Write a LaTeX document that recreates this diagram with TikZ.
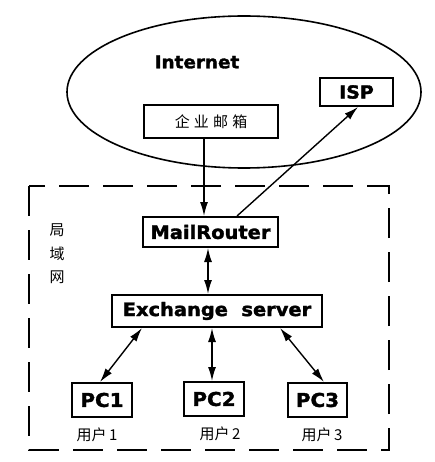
\documentclass[tikz,border=0pt]{standalone}
\usepackage{fontspec}
\newfontfamily\cjk{Noto Sans CJK SC}
\newfontfamily\hb{DejaVu Sans}[FakeStretch=1.05,FakeBold=1.8]
\usetikzlibrary{arrows.meta}
\begin{document}
\begin{tikzpicture}[x=1pt,y=-1pt,
  box/.style={draw,line width=2pt,inner sep=0pt},
  bold/.style={font=\hb\bfseries\fontsize{#1}{#1}\selectfont},
  cn/.style={font=\cjk\fontsize{15}{15}\selectfont},
  tip/.tip={Latex[length=14pt,width=8pt]},
  conn/.style={line width=1.4pt,-tip},
  bi/.style={line width=1.4pt,tip-tip}]
\useasboundingbox (0,0) rectangle (434,462);
% Internet cloud
\draw[line width=1.6pt] (244,92) ellipse [x radius=177pt, y radius=76pt];
\node[bold=17.5] (inet) at (197,62) {Internet};
\node[box,minimum width=73pt,minimum height=28pt,bold=18] (isp) at (356.5,92) {ISP};
\node[box,minimum width=134pt,minimum height=33pt,cn] (qiye) at (211,121.5) {企\;业\;邮\;箱};
% LAN frame
\draw[line width=1.7pt,dash pattern=on 30pt off 14pt] (29,186) rectangle (389,450);
\node[align=center,font=\cjk\fontsize{15}{23.5}\selectfont] (lan) at (57,254) {局\\域\\网};
\node[box,minimum width=135pt,minimum height=30pt,bold=18.5] (mr) at (210.5,232) {MailRouter};
\node[box,minimum width=210pt,minimum height=32pt,bold=18.5] (ex) at (217,311) {Exchange\ \ server};
\node[box,minimum width=60pt,minimum height=34pt,bold=19] (pc1) at (102,400) {PC1};
\node[box,minimum width=60pt,minimum height=34pt,bold=19] (pc2) at (214,399) {PC2};
\node[box,minimum width=59pt,minimum height=34pt,bold=19] (pc3) at (317.5,400) {PC3};
\node[cn] (u1) at (97,435) {用户\,1};
\node[cn] (u2) at (220,434) {用户\,2};
\node[cn] (u3) at (322,435) {用户\,3};
% connectors
\draw[conn] ([xshift=-7pt]qiye.south) -- ([xshift=-6.5pt]mr.north);
\draw[conn] ([xshift=26.5pt]mr.north) -- ([xshift=1.5pt]isp.south);
\draw[bi] ([xshift=-2.5pt]mr.south) -- ([xshift=-9pt]ex.north);
\draw[bi] ([xshift=-75pt]ex.south) -- ([xshift=-2pt]pc1.north);
\draw[bi] ([xshift=-5pt]ex.south) -- ([xshift=-2pt]pc2.north);
\draw[bi] ([xshift=63pt]ex.south) -- ([xshift=6.5pt]pc3.north);
\end{tikzpicture}
\end{document}
